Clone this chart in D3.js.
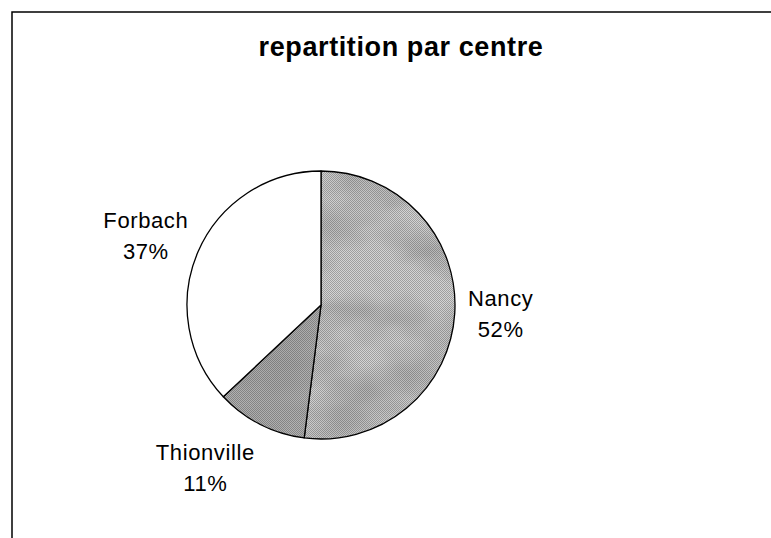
<!DOCTYPE html>
<html>
<head>
<meta charset="utf-8">
<script src="https://cdn.jsdelivr.net/npm/d3@7"></script>
<style>
  body { margin: 0; background: #fff; }
  svg { display: block; font-family: "Liberation Sans", Arial, sans-serif; }
</style>
</head>
<body>
<div id="chart"></div>
<script>
// donnees du graphique
var centres = ["Nancy", "Thionville", "Forbach"];
var valeurs = [52, 11, 37];
var titre = "repartition par centre";

var width = 771, height = 538;
var cx = 321, cy = 305, radius = 134;

var svg = d3.select("#chart").append("svg")
    .attr("width", width)
    .attr("height", height);

var defs = svg.append("defs");

// tramage fin (effet impression)
var dither = defs.append("pattern")
    .attr("id", "dither")
    .attr("width", 2).attr("height", 2)
    .attr("patternUnits", "userSpaceOnUse");
dither.append("rect").attr("width", 2).attr("height", 2).attr("fill", "#fff").attr("opacity", 0.35);
dither.append("rect").attr("width", 1).attr("height", 1).attr("fill", "#000").attr("opacity", 0.25);
dither.append("rect").attr("x", 1).attr("y", 1).attr("width", 1).attr("height", 1).attr("fill", "#000").attr("opacity", 0.25);

// taches sombres (degrade marbre)
var f = defs.append("filter").attr("id", "mottle")
    .attr("x", 0).attr("y", 0).attr("width", 1).attr("height", 1);
f.append("feTurbulence")
    .attr("type", "fractalNoise")
    .attr("baseFrequency", "0.012 0.02")
    .attr("numOctaves", 3)
    .attr("seed", 7)
    .attr("result", "noise");
f.append("feColorMatrix")
    .attr("in", "noise")
    .attr("type", "matrix")
    .attr("values", "0 0 0 0 0  0 0 0 0 0  0 0 0 0 0  1.6 0 0 0 -0.55")
    .attr("result", "blot");
f.append("feComposite")
    .attr("in", "blot").attr("in2", "SourceGraphic")
    .attr("operator", "in");

// cadre
svg.append("path")
    .attr("d", "M12,538V12H771")
    .attr("fill", "none")
    .attr("stroke", "#000")
    .attr("stroke-width", 1.5);

svg.append("text")
    .attr("x", 401)
    .attr("y", 56)
    .attr("text-anchor", "middle")
    .attr("font-size", 27)
    .attr("font-weight", "bold")
    .attr("letter-spacing", 0.6)
    .text(titre);

var data = centres.map(function (c, i) { return { centre: c, valeur: valeurs[i] }; });

var pie = d3.pie()
    .sort(null)
    .value(function (d) { return d.valeur; });

var arc = d3.arc().innerRadius(0).outerRadius(radius);
var labelArc = d3.arc().innerRadius(180).outerRadius(180);

var couleurs = d3.scaleOrdinal()
    .domain(centres)
    .range(["#bdbdbd", "#8e8e8e", "#ffffff"]);

// petits decalages des etiquettes (placement type Excel)
var decalage = { "Nancy": [0, -2], "Thionville": [-34, 3], "Forbach": [-10, 2] };

var g = svg.append("g").attr("transform", "translate(" + cx + "," + cy + ")");
var arcs = pie(data);

var slices = g.selectAll(".slice")
    .data(arcs)
    .enter().append("g")
    .attr("class", "slice");

slices.append("path")
    .attr("d", arc)
    .attr("fill", function (d) { return couleurs(d.data.centre); });

// texture sur les parts grises
slices.filter(function (d) { return d.data.centre !== "Forbach"; })
    .append("path")
    .attr("d", arc)
    .attr("fill", "#000")
    .attr("opacity", function (d) { return d.data.centre === "Nancy" ? 0.35 : 0.2; })
    .attr("filter", "url(#mottle)");

slices.filter(function (d) { return d.data.centre !== "Forbach"; })
    .append("path")
    .attr("d", arc)
    .attr("fill", "url(#dither)");

slices.append("path")
    .attr("d", arc)
    .attr("fill", "none")
    .attr("stroke", "#000")
    .attr("stroke-width", 1.3)
    .attr("stroke-linejoin", "round");

var total = d3.sum(valeurs);

var labels = g.selectAll(".label")
    .data(arcs)
    .enter().append("text")
    .attr("class", "label")
    .attr("text-anchor", "middle")
    .attr("font-size", 22)
    .attr("letter-spacing", 0.6)
    .attr("fill", "#000")
    .attr("transform", function (d) {
        var c = labelArc.centroid(d), o = decalage[d.data.centre];
        return "translate(" + (c[0] + o[0]) + "," + (c[1] + o[1]) + ")";
    });

labels.append("tspan")
    .attr("x", 0).attr("y", -8)
    .text(function (d) { return d.data.centre; });
labels.append("tspan")
    .attr("x", 0).attr("y", 23)
    .text(function (d) { return Math.round(d.data.valeur / total * 100) + "%"; });
</script>
</body>
</html>
